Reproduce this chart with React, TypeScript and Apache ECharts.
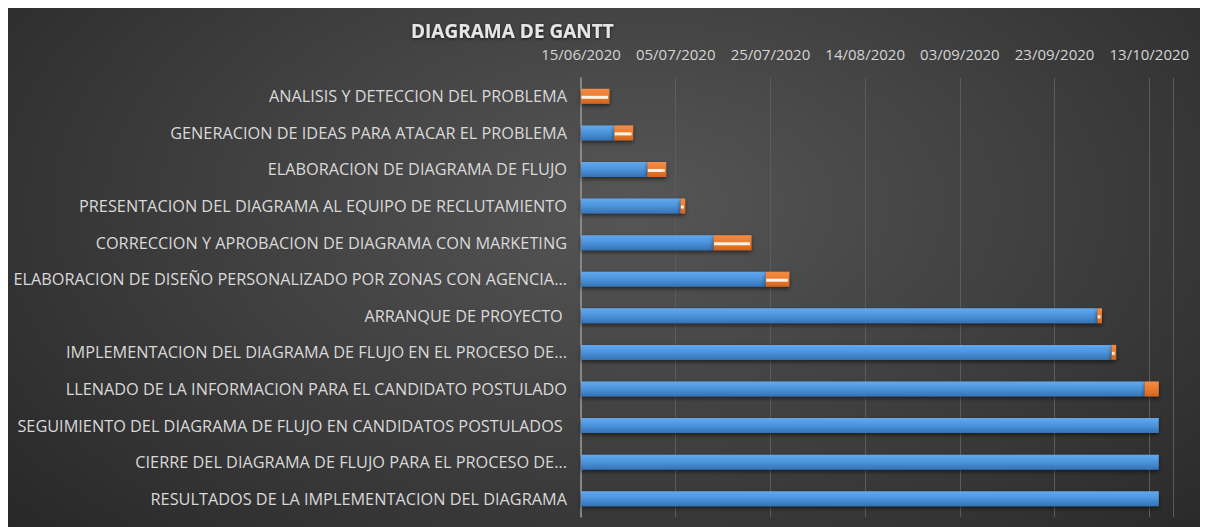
import React, { useEffect, useRef } from "react";
import * as echarts from "echarts";

const baseDate = "2020-06-15";
const tareas = [
  "ANALISIS Y DETECCION DEL PROBLEMA",
  "GENERACION DE IDEAS PARA ATACAR EL PROBLEMA",
  "ELABORACION DE DIAGRAMA DE FLUJO",
  "PRESENTACION DEL DIAGRAMA AL EQUIPO DE RECLUTAMIENTO",
  "CORRECCION Y APROBACION DE DIAGRAMA CON MARKETING",
  "ELABORACION DE DISEÑO PERSONALIZADO POR ZONAS CON AGENCIA...",
  "ARRANQUE DE PROYECTO ",
  "IMPLEMENTACION DEL DIAGRAMA DE FLUJO EN EL PROCESO DE...",
  "LLENADO DE LA INFORMACION PARA EL CANDIDATO POSTULADO",
  "SEGUIMIENTO DEL DIAGRAMA DE FLUJO EN CANDIDATOS POSTULADOS ",
  "CIERRE DEL DIAGRAMA DE FLUJO PARA EL PROCESO DE...",
  "RESULTADOS DE LA IMPLEMENTACION DEL DIAGRAMA",
];
const inicio = [
  "2020-06-15",
  "2020-06-22",
  "2020-06-29",
  "2020-07-06",
  "2020-07-13",
  "2020-07-24",
  "2020-10-02",
  "2020-10-05",
  "2020-10-12",
  "2020-10-15",
  "2020-10-15",
  "2020-10-15",
];
const duracion = [6, 4, 4, 1, 8, 5, 1, 1, 3, 0, 0, 0];
const avance = [6, 4, 4, 1, 8, 5, 1, 1, 0, 0, 0, 0];

const DAY = 86400000;
const toDays = (s: string) => {
  const [y, m, d] = s.split("-").map(Number);
  const [by, bm, bd] = baseDate.split("-").map(Number);
  return Math.round((Date.UTC(y, m - 1, d) - Date.UTC(by, bm - 1, bd)) / DAY);
};
const fmt = (v: number) => {
  const [by, bm, bd] = baseDate.split("-").map(Number);
  const dt = new Date(Date.UTC(by, bm - 1, bd) + v * DAY);
  const dd = String(dt.getUTCDate()).padStart(2, "0");
  const mm = String(dt.getUTCMonth() + 1).padStart(2, "0");
  return `${dd}/${mm}/${dt.getUTCFullYear()}`;
};

export default function App() {
  const ref = useRef<HTMLDivElement>(null);
  useEffect(() => {
    if (!ref.current) return;
    const chart = echarts.init(ref.current, null, { renderer: "svg" });
    const starts = inicio.map(toDays);
    const font = "'Open Sans', sans-serif";
    chart.setOption({
      animation: false,
      backgroundColor: "transparent",
      title: {
        text: "DIAGRAMA DE GANTT",
        left: 398,
        top: 8,
        textStyle: {
          fontFamily: font,
          fontWeight: "bold",
          fontSize: 19,
          color: "#e6e6e6",
          textShadowColor: "rgba(0,0,0,0.7)",
          textShadowBlur: 3,
          textShadowOffsetY: 1,
        },
      },
      grid: { left: 573, right: 35, top: 70, bottom: 10, containLabel: false },
      xAxis: {
        type: "value",
        position: "top",
        min: 0,
        max: 125,
        interval: 20,
        axisLine: { show: false },
        axisTick: { show: false },
        splitLine: { show: true, lineStyle: { color: "#5c5c5c", width: 1 } },
        axisLabel: {
          formatter: (v: number) => (v > 120 ? "" : fmt(v)),
          color: "#d4d4d4",
          fontFamily: font,
          fontSize: 15,
          margin: 17,
          showMaxLabel: false,
        },
      },
      yAxis: {
        type: "category",
        inverse: true,
        data: tareas,
        axisLine: { show: true, lineStyle: { color: "#9a9a9a", width: 1.5 } },
        axisTick: { show: false },
        axisLabel: {
          color: "#d9d9d9",
          fontFamily: font,
          fontSize: 16.3,
          margin: 14,
        },
      },
      series: [
        {
          type: "bar",
          stack: "g",
          barWidth: 15,
          data: starts,
          itemStyle: {
            color: new echarts.graphic.LinearGradient(0, 0, 0, 1, [
              { offset: 0, color: "#62a9ef" },
              { offset: 0.5, color: "#4b93db" },
              { offset: 1, color: "#3572b4" },
            ]),
            shadowColor: "rgba(0,0,0,0.55)",
            shadowBlur: 4,
            shadowOffsetY: 2,
          },
        },
        {
          type: "bar",
          stack: "g",
          barWidth: 15,
          data: duracion,
          itemStyle: {
            color: new echarts.graphic.LinearGradient(0, 0, 0, 1, [
              { offset: 0, color: "#f38c45" },
              { offset: 0.5, color: "#ec7a2d" },
              { offset: 1, color: "#d2661f" },
            ]),
            shadowColor: "rgba(0,0,0,0.55)",
            shadowBlur: 4,
            shadowOffsetY: 2,
          },
        },
        {
          type: "custom",
          data: starts.map((s, i) => [s, i, avance[i]]),
          encode: { x: 0, y: 1 },
          z: 5,
          renderItem: (params: any, api: any) => {
            const s = api.value(0);
            const idx = api.value(1);
            const a = api.value(2);
            if (!a) return null;
            const p0 = api.coord([s, idx]);
            const p1 = api.coord([s + a, idx]);
            return {
              type: "line",
              shape: { x1: p0[0] + 0.5, y1: p0[1] + 1, x2: p1[0] - 1.5, y2: p1[1] + 1 },
              style: { stroke: "#fff3e6", lineWidth: 3 },
            };
          },
        },
      ],
    });
    return () => chart.dispose();
  }, []);
  return (
    <div
      ref={ref}
      style={{
        width: 1200,
        height: 519,
        background:
          "radial-gradient(ellipse 70% 95% at 52% 38%, #565656 0%, #414141 45%, #272727 100%)",
      }}
    />
  );
}
